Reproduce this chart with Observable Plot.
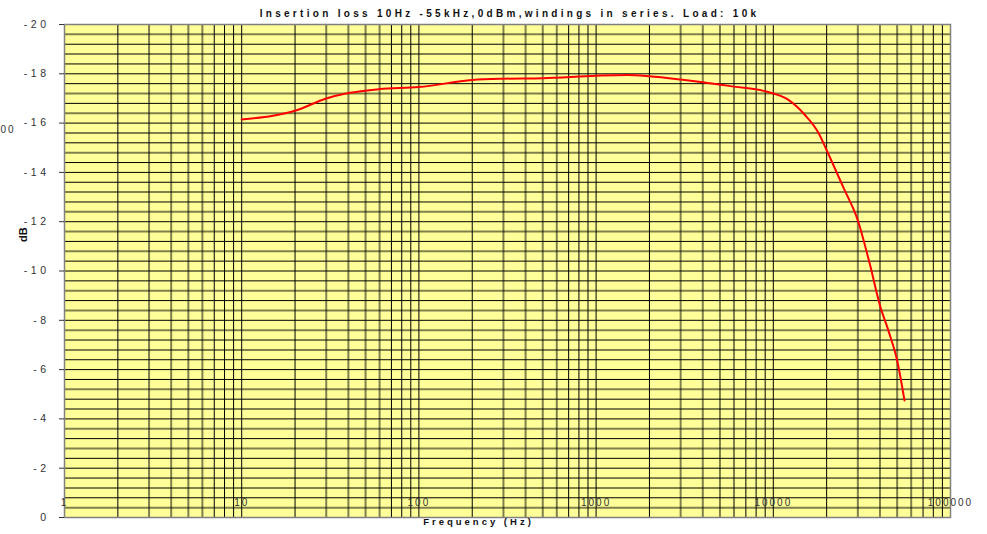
<!DOCTYPE html>
<html>
<head>
<meta charset="utf-8">
<script src="https://cdn.jsdelivr.net/npm/d3@7"></script>
<script src="https://cdn.jsdelivr.net/npm/@observablehq/plot@0.6"></script>
<style>
  html, body { margin: 0; padding: 0; background: #fff; }
</style>
</head>
<body>
<div id="chart"></div>
<script>
const titleText = "Insertion loss 10Hz -55kHz,0dBm,windings in series. Load: 10k";
const xLabel = "Frequency (Hz)";
const yLabel = "dB";

const freq = [10, 15, 20, 30, 40, 60, 100, 200, 300, 500, 1000, 1500, 2000, 3000, 4000, 6000, 9000, 12000, 15000, 18000, 20000, 25000, 30000, 35000, 40000, 45000, 50000, 55000];
const loss = [-16.15, -16.3, -16.5, -17.0, -17.22, -17.38, -17.46, -17.75, -17.8, -17.82, -17.92, -17.95, -17.9, -17.77, -17.66, -17.48, -17.29, -16.97, -16.35, -15.6, -14.9, -13.35, -12.05, -10.3, -8.6, -7.5, -6.37, -4.75];

const xTickValues = [1, 10, 100, 1000, 10000, 100000];
const xTickLabels = ["1", "10", "100", "1000", "10000", "100000"];
const yTicks = [-20, -18, -16, -14, -12, -10, -8, -6, -4, -2, 0];

// grid positions
const vBlack = [], vOlive = [];
for (let p = 1; p <= 10000; p *= 10) {
  for (let m = 2; m <= 10; m++) {
    ([3, 4, 5, 6].includes(m) ? vOlive : vBlack).push(m * p);
  }
}
const hBlack = [], hOlive = [];
for (let i = 1; i < 50; i++) {
  const v = -i * 0.4;
  const major = Math.abs(v / 2 - Math.round(v / 2)) < 1e-6;
  (major || i % 2 === 0 ? hBlack : hOlive).push(+v.toFixed(2));
}

const chart = Plot.plot({
  width: 987,
  height: 534,
  marginTop: 24,
  marginRight: 37,
  marginBottom: 17,
  marginLeft: 64,
  style: { fontFamily: "'Liberation Sans', Arial, sans-serif", color: "#333", background: "#fff", overflow: "visible" },
  x: { type: "log", domain: [1, 100000], axis: null },
  y: { domain: [0, -20], axis: null },
  marks: [
    Plot.frame({ fill: "#ffff99", stroke: null }),
    Plot.ruleX(vOlive, { stroke: "#000", strokeOpacity: 0.5, strokeWidth: 2 }),
    Plot.ruleX(vBlack, { stroke: "#000", strokeWidth: 1 }),
    Plot.ruleY(hOlive, { stroke: "#000", strokeOpacity: 0.5, strokeWidth: 2 }),
    Plot.ruleY(hBlack, { stroke: "#000", strokeWidth: 1 }),
    Plot.ruleY([-20], { stroke: "#000", strokeWidth: 1 }),
    Plot.frame({ stroke: "#808080", strokeWidth: 1.5 }),
    Plot.axisY({ ticks: yTicks, tickFormat: d => String(d), tickSize: 5, tickPadding: 10, fontSize: 10.5, label: null, stroke: "#333" }),
    Plot.text(xTickLabels, { x: xTickValues, y: () => -0.6, text: d => d, fontSize: 10, fill: "#333" }),
    Plot.line(freq, { x: freq, y: loss, stroke: "#ff0000", strokeWidth: 2, curve: "monotone-x" }),
    Plot.text([titleText], { frameAnchor: "top", dx: 2, dy: -15, fontWeight: "bold", fontSize: 10, fill: "#111" }),
    Plot.text([xLabel], { frameAnchor: "bottom", dx: -29, dy: 7, fontWeight: "bold", fontSize: 9.5, fill: "#111" }),
    Plot.text([yLabel], { frameAnchor: "left", dx: -41, dy: -29, rotate: -90, fontWeight: "bold", fontSize: 11, fill: "#111" }),
    Plot.text(["00"], { frameAnchor: "top-left", dx: -64, dy: 101, textAnchor: "start", fontSize: 10, fill: "#333" })
  ]
});
document.getElementById("chart").appendChild(chart);

// letter spacing like the original spreadsheet rendering
const yTickStrings = new Set(yTicks.map(String));
d3.select(chart).selectAll("text").each(function () {
  const t = this.textContent;
  let ls = "2px";
  if (t === titleText) ls = "3.3px";
  else if (t === xLabel) ls = "3px";
  else if (t === yLabel) ls = "0px";
  else if (yTickStrings.has(t) && this.closest('g[aria-label="y-axis tick label"]')) ls = "3.5px";
  this.style.letterSpacing = ls;
});
</script>
</body>
</html>
